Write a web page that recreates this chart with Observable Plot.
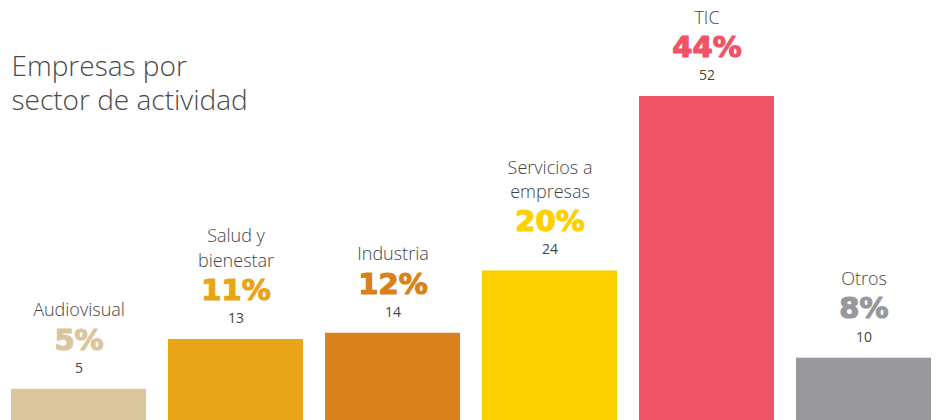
<!DOCTYPE html>
<html>
<head>
<meta charset="utf-8">
<script src="https://cdn.jsdelivr.net/npm/d3@7"></script>
<script src="https://cdn.jsdelivr.net/npm/@observablehq/plot@0.6"></script>
<style>
  html, body { margin: 0; padding: 0; background: #fff; }
  #chart { position: relative; width: 939px; height: 420px; overflow: hidden; }
</style>
</head>
<body>
<div id="chart"></div>
<script>
const sectors = ["Audiovisual", "Salud y\nbienestar", "Industria", "Servicios a\nempresas", "TIC", "Otros"];
const counts = [5, 13, 14, 24, 52, 10];
const shares = [5, 11, 12, 20, 44, 8];
const colors = ["#dbc59b", "#e8a516", "#d9811b", "#fdd000", "#ef5366", "#98989c"];
const title = "Empresas por\nsector de actividad";

const data = sectors.map((s, i) => ({sector: s, count: counts[i], share: shares[i], color: colors[i]}));

const nameFont = "'Open Sans', 'Noto Sans', sans-serif";
const pctFont = "'DejaVu Sans', sans-serif";

const plot = Plot.plot({
  width: 939,
  height: 420,
  marginTop: 96,
  marginBottom: 0,
  marginLeft: 11,
  marginRight: 8,
  style: {overflow: "visible", background: "#fff"},
  x: {domain: sectors, paddingInner: 0.14, paddingOuter: 0, round: false, axis: null},
  y: {domain: [0, 52], axis: null},
  marks: [
    Plot.barY(data, {x: "sector", y: "count", fill: "color"}),
    Plot.text(data, {
      x: "sector", y: "count", text: d => String(d.count),
      dy: -21, lineAnchor: "middle", fontSize: 14, fill: "#444",
      fontFamily: nameFont
    }),
    Plot.text(data, {
      x: "sector", y: "count", text: d => d.share + "%",
      dy: -49, lineAnchor: "middle", fontSize: 29, fontWeight: "bold", fill: "color",
      stroke: "color", strokeWidth: 1.2,
      fontFamily: pctFont
    }),
    Plot.text(data, {
      x: "sector", y: "count", text: "sector",
      dy: -73, lineAnchor: "bottom", lineHeight: 1.35, fontSize: 18, fontWeight: 300, fill: "#444",
      fontFamily: nameFont
    }),
    Plot.text([title], {
      frameAnchor: "top-left", text: d => d, textAnchor: "start",
      dy: 13, lineAnchor: "bottom", lineHeight: 1.2, fontSize: 28, fontWeight: 300, fill: "#4a4a4a",
      fontFamily: nameFont
    })
  ]
});
document.getElementById("chart").appendChild(plot);
</script>
</body>
</html>
